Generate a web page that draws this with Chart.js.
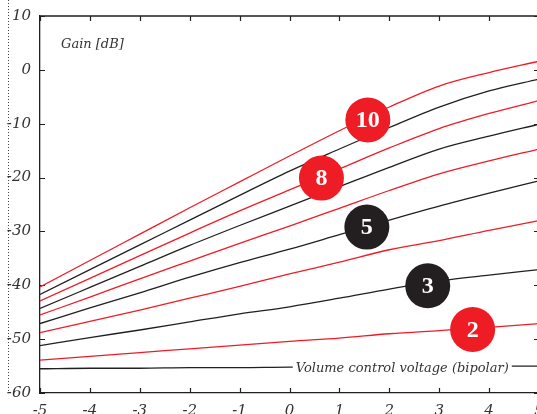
<!DOCTYPE html>
<html>
<head>
<meta charset="utf-8">
<script src="https://cdn.jsdelivr.net/npm/chart.js@4.4.1/dist/chart.umd.min.js"></script>
<style>
  html, body { margin: 0; padding: 0; background: #fff; overflow: hidden; }
  #wrap { position: relative; width: 537px; height: 414px; overflow: hidden; }
  #box { position: absolute; left: 0; top: 0; width: 545px; height: 432px; }
</style>
</head>
<body>
<div id="wrap"><div id="box"><canvas id="c" width="545" height="432"></canvas></div></div>
<script>
// Control voltage (bipolar), volts
const voltage = [-5, -4, -3, -2, -1, 0, 1, 2, 3, 4, 5];

// Gain in dB for scale settings 1..10
const gain1  = [-55.5, -55.4, -55.4, -55.3, -55.3, -55.2, -55.2, -55.1, -55.1, -55.0, -55.0];
const gain2  = [-53.9, -53.2, -52.5, -51.8, -51.1, -50.4, -49.8, -49.0, -48.4, -47.8, -47.1];
const gain3  = [-51.2, -49.7, -48.3, -46.8, -45.3, -44.0, -42.4, -40.7, -39.2, -38.1, -37.1];
const gain4  = [-48.8, -46.7, -44.6, -42.4, -40.2, -37.9, -35.7, -33.4, -31.7, -29.8, -28.0];
const gain5  = [-47.1, -44.2, -41.4, -38.5, -35.8, -33.3, -30.6, -27.9, -25.3, -22.9, -20.6];
const gain6  = [-45.5, -42.2, -38.8, -35.5, -32.2, -29.0, -25.7, -22.4, -19.3, -16.9, -14.7];
const gain7  = [-44.3, -40.4, -36.5, -32.6, -28.9, -25.3, -21.7, -18.1, -14.7, -12.3, -10.1];
const gain8  = [-42.9, -38.7, -34.5, -30.3, -26.2, -22.3, -18.4, -14.5, -10.9, -8.1, -5.7];
const gain9  = [-41.7, -37.1, -32.5, -27.9, -23.3, -18.8, -14.7, -10.7, -6.9, -3.9, -1.7];
const gain10 = [-40.3, -35.4, -30.5, -25.6, -20.8, -16.0, -11.3, -6.9, -3.0, -0.5, 1.6];

const seriesNames = ['1', '2', '3', '4', '5', '6', '7', '8', '9', '10'];
const seriesGains = [gain1, gain2, gain3, gain4, gain5, gain6, gain7, gain8, gain9, gain10];

// Numbered markers sitting on selected curves
const badgeText = ['10', '8', '5', '3', '2'];
const badgeX    = [1.57, 0.64, 1.55, 2.77, 3.67];
const badgeY    = [-9.3, -20.1, -29.2, -40.1, -48.2];

const xTicks = [-5, -4, -3, -2, -1, 0, 1, 2, 3, 4, 5];
const yTicks = [-60, -50, -40, -30, -20, -10, 0, 10];

const RED = '#ee1c25';
const BLACK = '#231f20';
const INK = '#333333';
const SERIF = '"DejaVu Serif", "Liberation Serif", serif';
const BADGE_FONT = '"Liberation Serif", serif';

const lineSets = seriesGains.map((g, i) => ({
  label: seriesNames[i],
  data: voltage.map((v, k) => ({ x: v, y: g[k] })),
  borderColor: i % 2 === 0 ? BLACK : RED,
  borderWidth: 1.3,
  pointRadius: 0,
  cubicInterpolationMode: 'monotone',
  fill: false,
  order: 1
}));

const badgeSet = {
  type: 'scatter',
  label: 'markers',
  data: badgeX.map((x, i) => ({ x: x, y: badgeY[i] })),
  backgroundColor: badgeText.map(t => (t === '10' || t === '8' || t === '2') ? RED : BLACK),
  borderWidth: 0,
  pointRadius: 22.5,
  pointHoverRadius: 22.5,
  order: 0
};

// Frame, inward tick marks, tick labels, left dotted rule and in-plot captions
const decor = {
  id: 'decor',
  beforeDatasetsDraw(chart) {
    const { ctx, chartArea: a, scales: { x, y } } = chart;
    ctx.save();
    ctx.strokeStyle = BLACK;
    ctx.lineWidth = 1.3;
    ctx.beginPath();
    ctx.moveTo(a.left, a.top); ctx.lineTo(a.right, a.top);
    ctx.lineTo(a.right, a.bottom);
    ctx.stroke();
    ctx.lineWidth = 1.2;
    ctx.beginPath();
    xTicks.forEach(v => {
      const px = Math.round(x.getPixelForValue(v)) + 0.5;
      ctx.moveTo(px, a.bottom); ctx.lineTo(px, a.bottom - 5);
      ctx.moveTo(px, a.top); ctx.lineTo(px, a.top + 5);
    });
    yTicks.forEach(v => {
      const py = Math.round(y.getPixelForValue(v)) + 0.5;
      ctx.moveTo(a.left, py); ctx.lineTo(a.left + 5, py);
      ctx.moveTo(a.right, py); ctx.lineTo(a.right - 5, py);
    });
    ctx.stroke();

    // tick labels
    ctx.fillStyle = INK;
    ctx.font = 'italic 15px ' + SERIF;
    ctx.textAlign = 'right';
    ctx.textBaseline = 'middle';
    yTicks.forEach(v => ctx.fillText(String(v), a.left - 9, y.getPixelForValue(v)));
    ctx.textAlign = 'center';
    ctx.textBaseline = 'top';
    xTicks.forEach(v => ctx.fillText(String(v), x.getPixelForValue(v), a.bottom + 11));

    // dotted rule at the far left
    ctx.strokeStyle = '#444';
    ctx.lineWidth = 1;
    ctx.setLineDash([1, 2]);
    ctx.beginPath();
    ctx.moveTo(8.5, 0); ctx.lineTo(8.5, a.bottom - 2);
    ctx.stroke();
    ctx.restore();
  },
  afterDatasetsDraw(chart) {
    const { ctx, chartArea: a, scales: { x, y } } = chart;
    ctx.save();
    // numbers inside markers
    const meta = chart.getDatasetMeta(0);
    ctx.fillStyle = '#fff';
    ctx.font = 'bold 24px ' + BADGE_FONT;
    ctx.textAlign = 'center';
    ctx.textBaseline = 'middle';
    meta.data.forEach((el, i) => {
      ctx.fillText(badgeText[i], el.x, el.y + 1);
    });
    // axis captions
    ctx.font = 'italic 13px ' + SERIF;
    ctx.fillStyle = INK;
    ctx.textAlign = 'left';
    ctx.fillText('Gain [dB]', a.left + 21, a.top + 29);
    const caption = 'Volume control voltage (bipolar)';
    ctx.font = 'italic 13px ' + SERIF;
    const w = ctx.measureText(caption).width;
    const cx = x.getPixelForValue(2.26);
    const cy = y.getPixelForValue(-55.2);
    ctx.fillStyle = '#fff';
    ctx.fillRect(cx - w / 2 - 3, cy - 9, w + 6, 18);
    ctx.fillStyle = INK;
    ctx.textAlign = 'center';
    ctx.fillText(caption, cx, cy + 1);
    ctx.restore();
  }
};

new Chart(document.getElementById('c'), {
  type: 'line',
  data: { datasets: [badgeSet, ...lineSets] },
  options: {
    responsive: false,
    animation: false,
    layout: { autoPadding: false, padding: { top: 16, right: 6, left: 0, bottom: 0 } },
    plugins: { legend: { display: false }, tooltip: { enabled: false } },
    events: [],
    scales: {
      x: {
        type: 'linear',
        min: -5, max: 5,
        afterBuildTicks: s => { s.ticks = xTicks.map(v => ({ value: v })); },
        afterFit: s => { s.height = 39; },
        grid: { display: false, drawTicks: false },
        border: { display: true, color: BLACK, width: 1.3 },
        ticks: { display: false }
      },
      y: {
        type: 'linear',
        min: -60, max: 10,
        afterBuildTicks: s => { s.ticks = yTicks.map(v => ({ value: v })); },
        afterFit: s => { s.width = 40; },
        grid: { display: false, drawTicks: false },
        border: { display: true, color: BLACK, width: 1.3 },
        ticks: { display: false }
      }
    }
  },
  plugins: [decor]
});
</script>
</body>
</html>
